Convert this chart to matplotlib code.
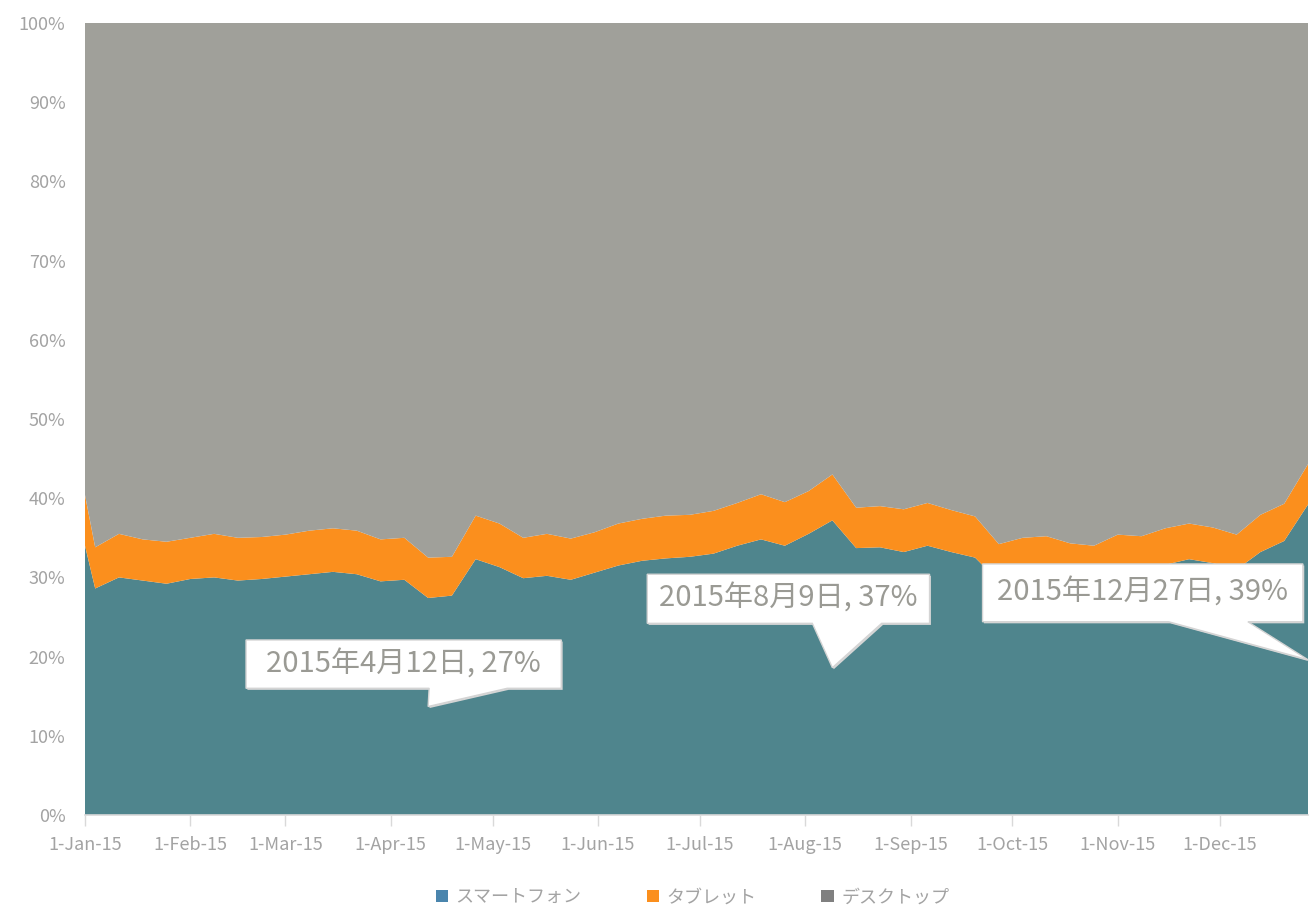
import matplotlib
matplotlib.use("Agg")
import matplotlib.pyplot as plt
import matplotlib.dates as mdates
from matplotlib.patches import Polygon, Patch
from matplotlib.ticker import FixedLocator, FuncFormatter
import numpy as np
import pandas as pd

plt.rcParams['font.family'] = ['Noto Sans CJK JP', 'DejaVu Sans']

# ---------------- data ----------------
dates = pd.to_datetime(["2015-01-01"] +
                       [d.strftime("%Y-%m-%d") for d in pd.date_range("2015-01-04", "2015-12-27", freq="7D")])

smartphone = [34.0, 28.6, 30.0, 29.6, 29.2, 29.8, 30.0, 29.6, 29.8, 30.1,
              30.4, 30.7, 30.4, 29.5, 29.7, 27.4, 27.7, 32.3, 31.3, 29.9,
              30.2, 29.7, 30.6, 31.5, 32.1, 32.4, 32.6, 33.0, 34.0, 34.8,
              34.0, 35.5, 37.2, 33.7, 33.8, 33.2, 34.0, 33.2, 32.5, 29.5,
              30.2, 30.5, 29.8, 29.5, 30.8, 30.7, 31.6, 32.3, 31.8, 31.0,
              33.2, 34.6, 39.2]
tablet = [6.4, 5.2, 5.5, 5.2, 5.3, 5.2, 5.5, 5.4, 5.3, 5.3,
          5.5, 5.5, 5.5, 5.3, 5.3, 5.1, 4.9, 5.5, 5.5, 5.1,
          5.3, 5.2, 5.1, 5.3, 5.3, 5.4, 5.3, 5.4, 5.4, 5.7,
          5.5, 5.4, 5.8, 5.1, 5.2, 5.4, 5.4, 5.3, 5.2, 4.7,
          4.8, 4.7, 4.5, 4.5, 4.6, 4.5, 4.6, 4.5, 4.5, 4.4,
          4.7, 4.7, 5.1]
desktop = [round(100 - s - t, 1) for s, t in zip(smartphone, tablet)]

series_names = ["スマートフォン", "タブレット", "デスクトップ"]
month_ticks = pd.date_range("2015-01-01", "2015-12-01", freq="MS")

ann_labels = ["2015年4月12日, 27%", "2015年8月9日, 37%", "2015年12月27日, 39%"]
ann_dates = ["2015-04-12", "2015-08-09", "2015-12-27"]

# callout layout (day offsets from Jan 1 and percent)
ann_boxes = [  # left, right, bottom, top, base_left, base_right
    (47.4, 140.2, 16.0, 22.1, 101.3, 124.3),
    (165.5, 248.6, 24.2, 30.4, 214.1, 234.5),
    (264.2, 358.5, 24.4, 31.7, 319.0, 342.3),
]

# ---------------- style ----------------
c_smart = '#4F858D'
c_tab = '#FB8F1D'
c_desk = '#A0A09A'
leg_colors = ['#4A85AD', '#FB8F1D', '#808080']
txt_gray = '#A3A3A3'

fig = plt.figure(figsize=(13.09, 9.09), dpi=100)
ax = fig.add_axes([85/1309, 1 - 815/909, (1308-85)/1309, (815-23)/909])

ax.stackplot(dates, smartphone, tablet, desktop,
             colors=[c_smart, c_tab, c_desk], linewidth=0)

ax.set_xlim(dates[0], dates[-1])
ax.set_ylim(0, 100)

ax.yaxis.set_major_locator(FixedLocator(np.arange(0, 101, 10)))
ax.yaxis.set_major_formatter(FuncFormatter(lambda v, p: f"{int(v)}%"))
ax.set_xticks(month_ticks)
ax.xaxis.set_major_formatter(mdates.DateFormatter("%-d-%b-%y"))

ax.tick_params(axis='y', length=0, pad=14, labelsize=13, labelcolor=txt_gray)
ax.tick_params(axis='x', length=8, width=1, color='#D9D9D9', pad=7,
               labelsize=13, labelcolor=txt_gray)
for s in ['top', 'right', 'left']:
    ax.spines[s].set_visible(False)
ax.spines['bottom'].set_color('#D9D9D9')
ax.spines['bottom'].set_linewidth(1.2)

# ---------------- callouts ----------------
d0 = mdates.date2num(pd.Timestamp("2015-01-01"))
for lab, dstr, (l, r, b, t, bl, br) in zip(ann_labels, ann_dates, ann_boxes):
    dt = pd.Timestamp(dstr)
    idx = list(dates).index(dt)
    tip = (mdates.date2num(dt), smartphone[idx] / 2)
    verts = [(d0 + l, t), (d0 + r, t), (d0 + r, b), (d0 + br, b), tip,
             (d0 + bl, b), (d0 + l, b)]
    shadow = Polygon([(x + 0.4, y - 0.2) for x, y in verts], closed=True,
                     facecolor='#D6D6D6', edgecolor='none', zorder=5, clip_on=False)
    ax.add_patch(shadow)
    poly = Polygon(verts, closed=True, facecolor='white', edgecolor='#D4D4D4',
                   linewidth=1.0, zorder=6, clip_on=False)
    ax.add_patch(poly)
    ax.text(d0 + (l + r) / 2, (b + t) / 2, lab, ha='center', va='center',
            fontsize=21, color='#9A9A94', zorder=7)

# ---------------- legend ----------------
handles = [Patch(facecolor=c, edgecolor='none') for c in leg_colors]
fig.legend(handles, series_names, loc='center', bbox_to_anchor=(0.529, 0.013),
           ncol=3, frameon=False, fontsize=13, labelcolor=txt_gray,
           handlelength=0.7, handleheight=0.7, handletextpad=0.4, columnspacing=3.6)

fig.savefig("out.png", dpi=100)
